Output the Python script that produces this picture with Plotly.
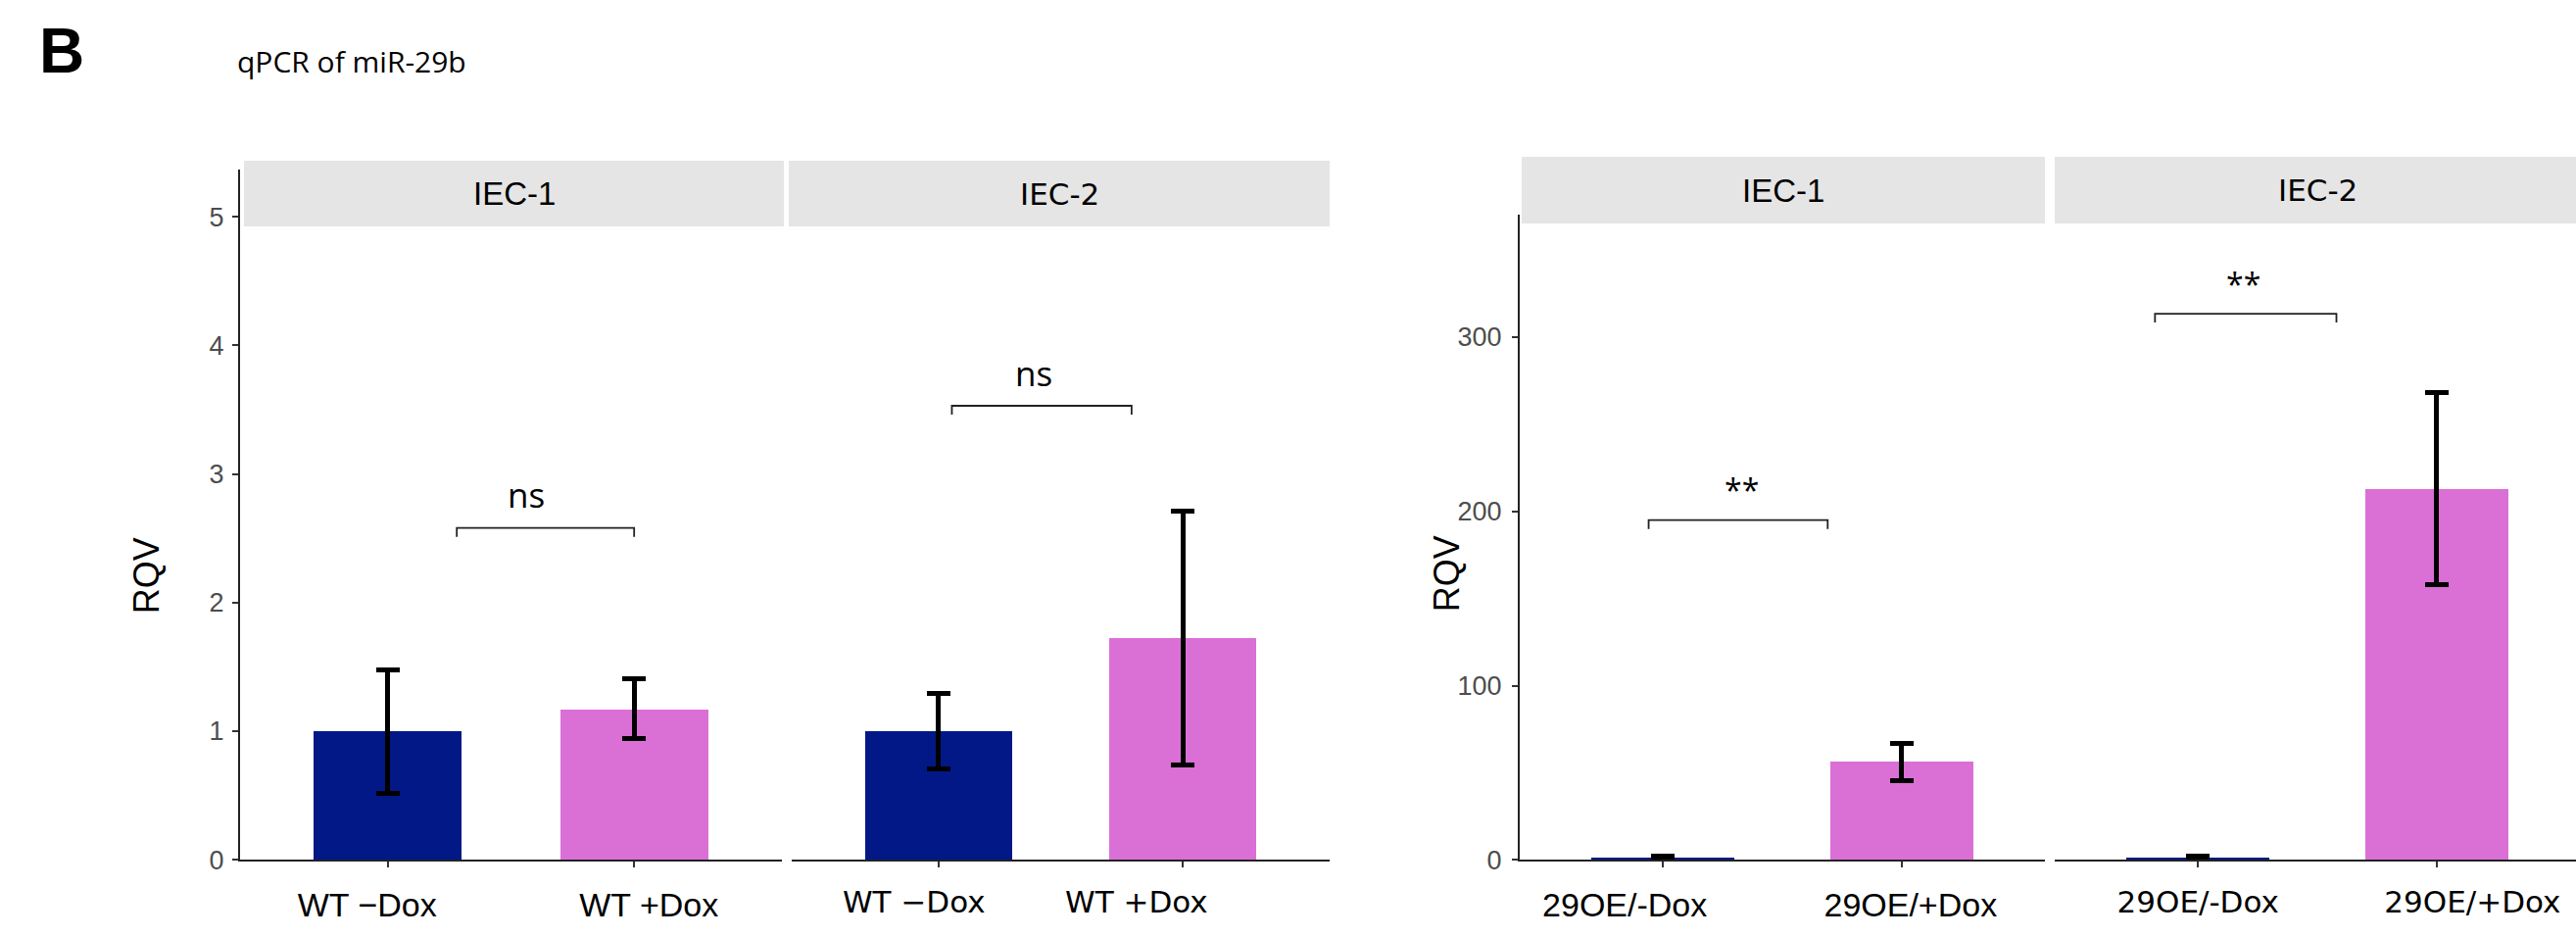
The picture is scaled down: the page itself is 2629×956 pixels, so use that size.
import plotly.graph_objects as go

W, H = 2629, 956

# ---------------- data ----------------
cell_lines = ["IEC-1", "IEC-2"]
wt_labels = ["WT \u2212Dox", "WT +Dox"]
oe_labels = ["29OE/-Dox", "29OE/+Dox"]

wt_iec1_mean = [1.00, 1.17]
wt_iec1_low = [0.52, 0.945]
wt_iec1_high = [1.48, 1.41]
wt_iec2_mean = [1.00, 1.72]
wt_iec2_low = [0.71, 0.74]
wt_iec2_high = [1.29, 2.71]

oe_iec1_mean = [1.0, 56.3]
oe_iec1_low = [0.5, 45.5]
oe_iec1_high = [2.0, 67.0]
oe_iec2_mean = [1.0, 213.0]
oe_iec2_low = [0.5, 158.0]
oe_iec2_high = [2.0, 268.0]

wt_ticks = [0, 1, 2, 3, 4, 5]
oe_ticks = [0, 100, 200, 300]

# significance brackets: (start, end, height, label, label x)
wt_sig = [(0.28, 1.0, 2.58, "ns", 0.56), (0.055, 0.79, 3.53, "ns", 0.39)]
oe_sig = [(-0.06, 0.69, 195.0, "**", 0.33), (-0.18, 0.58, 313.5, "**", 0.19)]

bar_colors = ["#021887", "#DA70D6"]

# ---------------- layout helpers ----------------
K = 0.984  # vertical correction observed in the rendered page


def fx(px):
    return px / W


def fy(py):
    return 1 - py / (H * K)


NARROW = "Liberation Sans, Arial, sans-serif"
WIDE = "DejaVu Sans, Verdana, sans-serif"

Y_BOTTOM = 877
WT_TOP, OE_TOP = 173, 219
WT_RANGE = [0, 5.366]
OE_RANGE = [0, 370.3]

panels = [
    dict(xa="x", ya="y", dom=(245, 798), rng=[-0.6, 1.6], labels=wt_labels,
         lab_off=(-0.084, 0.06),
         mean=wt_iec1_mean, low=wt_iec1_low, high=wt_iec1_high,
         font=dict(family=NARROW, size=34, color="black"),
         strip=(249, 800, 164, 231), sfont=dict(family=NARROW, size=33, color="black"),
         name=cell_lines[0]),
    dict(xa="x2", ya="y", dom=(808, 1357), rng=[-0.6, 1.6], labels=wt_labels,
         lab_off=(-0.10, -0.19),
         mean=wt_iec2_mean, low=wt_iec2_low, high=wt_iec2_high,
         font=dict(family=WIDE, size=31, color="black"),
         strip=(805, 1357, 164, 231), sfont=dict(family=WIDE, size=31, color="black"),
         name=cell_lines[1]),
    dict(xa="x3", ya="y2", dom=(1551, 2087), rng=[-0.6, 1.6], labels=oe_labels,
         lab_off=(-0.16, 0.037),
         mean=oe_iec1_mean, low=oe_iec1_low, high=oe_iec1_high,
         font=dict(family=NARROW, size=34, color="black"),
         strip=(1553, 2087, 160, 228), sfont=dict(family=NARROW, size=33, color="black"),
         name=cell_lines[0]),
    dict(xa="x4", ya="y2", dom=(2097, W), rng=[-0.6, 1.6 - 4 / 243.6], labels=oe_labels,
         lab_off=(0.0, 0.15),
         mean=oe_iec2_mean, low=oe_iec2_low, high=oe_iec2_high,
         font=dict(family=WIDE, size=31, color="black"),
         strip=(2097, W, 160, 228), sfont=dict(family=WIDE, size=31, color="black"),
         name=cell_lines[1]),
]

fig = go.Figure()
layout_axes = {}
shapes = []
annotations = []

for i, p in enumerate(panels):
    fig.add_trace(go.Bar(
        x=[0, 1], y=p["mean"], width=0.6,
        marker=dict(color=bar_colors, line=dict(width=0)),
        error_y=dict(type="data", symmetric=False,
                     array=[h - m for h, m in zip(p["high"], p["mean"])],
                     arrayminus=[m - l for m, l in zip(p["mean"], p["low"])],
                     color="black", thickness=5, width=12),
        xaxis=p["xa"], yaxis=p["ya"], showlegend=False, hoverinfo="skip",
    ))
    key = "xaxis" if p["xa"] == "x" else "xaxis" + p["xa"][1:]
    layout_axes[key] = dict(
        domain=[fx(p["dom"][0]), fx(p["dom"][1])], range=p["rng"], anchor=p["ya"],
        tickmode="array",
        tickvals=[k + o for k, o in zip([0, 1], p["lab_off"])], ticktext=p["labels"],
        tickfont=p["font"], ticks="", ticklabelstandoff=15,
        minor=dict(tickmode="array", tickvals=[0, 1], ticks="outside", ticklen=6,
                   tickwidth=2, tickcolor="#333333", showgrid=False),
        showline=True, linecolor="#222222", linewidth=2,
        showgrid=False, zeroline=False, fixedrange=True,
    )
    x0, x1, y0, y1 = p["strip"]
    shapes.append(dict(type="rect", xref="paper", yref="paper", layer="above",
                       x0=fx(x0), x1=fx(x1), y0=fy(y1), y1=fy(y0),
                       fillcolor="#E5E5E5", line=dict(width=0)))
    annotations.append(dict(xref="paper", yref="paper", x=fx((x0 + x1 + (4 if i == 3 else 0)) / 2),
                            y=fy((y0 + y1) / 2), text=p["name"], showarrow=False,
                            xanchor="center", yanchor="middle", font=p["sfont"]))

layout_axes["yaxis"] = dict(
    domain=[fy(Y_BOTTOM), fy(WT_TOP)], range=WT_RANGE, anchor="x",
    tickvals=wt_ticks, tickfont=dict(family=NARROW, size=27, color="#4D4D4D"),
    showline=True, linecolor="#222222", linewidth=2,
    ticks="outside", ticklen=6, tickwidth=2, tickcolor="#333333",
    ticklabelstandoff=3, showgrid=False, zeroline=False, fixedrange=True,
)
layout_axes["yaxis2"] = dict(
    domain=[fy(Y_BOTTOM), fy(OE_TOP)], range=OE_RANGE, anchor="x3",
    tickvals=oe_ticks, tickfont=dict(family=NARROW, size=27, color="#4D4D4D"),
    showline=True, linecolor="#222222", linewidth=2,
    ticks="outside", ticklen=6, tickwidth=2, tickcolor="#333333",
    ticklabelstandoff=5, showgrid=False, zeroline=False, fixedrange=True,
)

# significance brackets
TICK_PX = 9
wt_per_px = (WT_RANGE[1] - WT_RANGE[0]) / (Y_BOTTOM - WT_TOP)
oe_per_px = (OE_RANGE[1] - OE_RANGE[0]) / (Y_BOTTOM - OE_TOP)
sig_sets = [(wt_sig, ["x", "x2"], "y", wt_per_px, "Open Sans, sans-serif", 35, 34),
            (oe_sig, ["x3", "x4"], "y2", oe_per_px, "Open Sans, sans-serif", 32, 31)]
for sigs, xas, ya, per_px, fam, size, shift in sig_sets:
    for (s, e, h, lab, lx), xa in zip(sigs, xas):
        d = TICK_PX * per_px
        shapes.append(dict(type="path", xref=xa, yref=ya,
                           path=f"M {s},{h - d} L {s},{h} L {e},{h} L {e},{h - d}",
                           line=dict(color="#222222", width=1.8)))
        annotations.append(dict(xref=xa, yref=ya, x=lx, y=h, text=lab, showarrow=False,
                                xanchor="center", yanchor="middle", yshift=shift,
                                font=dict(family=fam, size=size, color="black")))

# y titles
for xpx, ypx in [(149, 587), (1476, 585)]:
    annotations.append(dict(xref="paper", yref="paper", x=fx(xpx), y=fy(ypx), text="RQV",
                            textangle=-90, showarrow=False, xanchor="center", yanchor="middle",
                            font=dict(family=NARROW, size=36, color="black")))

# panel letter
annotations.append(dict(xref="paper", yref="paper", x=fx(63), y=fy(52), text="<b>B</b>",
                        showarrow=False, xanchor="center", yanchor="middle",
                        font=dict(family="Liberation Sans, Arial, sans-serif", size=64, color="black")))

fig.update_layout(
    width=W, height=H, margin=dict(l=0, r=0, t=0, b=0),
    paper_bgcolor="white", plot_bgcolor="white",
    title=dict(text="qPCR of miR-29b", x=fx(242), xanchor="left", xref="paper",
               y=fy(62), yanchor="middle",
               font=dict(family="Open Sans, sans-serif", size=30, color="black")),
    shapes=shapes, annotations=annotations, bargap=0, showlegend=False,
    **layout_axes,
)

fig.write_html(
    "out.html",
    config={"displayModeBar": False},
    post_script="document.body.style.margin='0';document.body.style.overflow='hidden';",
)
